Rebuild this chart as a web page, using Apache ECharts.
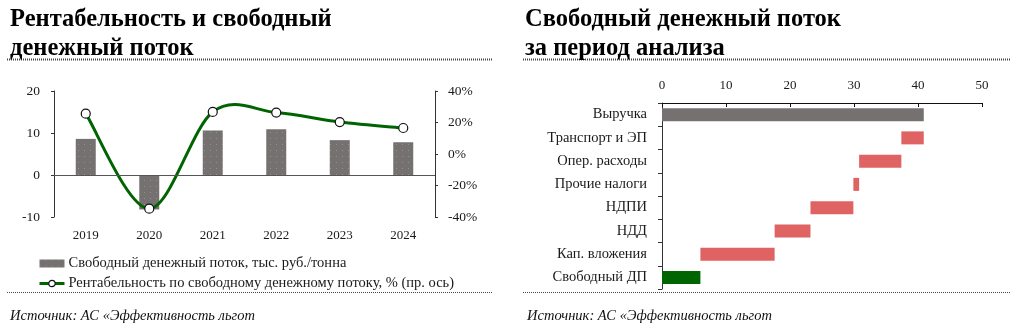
<!DOCTYPE html>
<html>
<head>
<meta charset="utf-8">
<script src="https://cdn.jsdelivr.net/npm/echarts@6/dist/echarts.min.js"></script>
<style>
  html, body { margin: 0; padding: 0; background: #ffffff; }
  #chart { width: 1014px; height: 329px; }
</style>
</head>
<body>
<div id="chart"></div>
<script>
// Left panel: free cash flow per tonne and FCF profitability by year
const years = ['2019', '2020', '2021', '2022', '2023', '2024'];
const fcfPerTonne = [8.6, -8.2, 10.6, 10.9, 8.3, 7.8];          // тыс. руб./тонна
const fcfMargin = [25.6, -34.7, 26.7, 26.3, 20.3, 16.5];        // %, right axis
const leftTicks = { min: -10, max: 20, interval: 10 };
const rightTicks = { min: -40, max: 40, interval: 20 };

// Right panel: free cash flow bridge for the analysis period
const bridgeItems = ['Выручка', 'Транспорт и ЭП', 'Опер. расходы', 'Прочие налоги',
                     'НДПИ', 'НДД', 'Кап. вложения', 'Свободный ДП'];
const bridgeValues = [40.9, 3.5, 6.6, 0.9, 6.7, 5.6, 11.6, 6.0];
const bridgeKinds = ['total', 'cost', 'cost', 'cost', 'cost', 'cost', 'cost', 'result'];
const bridgeTicks = { min: 0, max: 50, interval: 10 };

const FONT = '"Liberation Serif", "Times New Roman", serif';
const GREY = '#767171';
const RED = '#e06363';
const GREEN = '#006400';
const TEXT = '#1a1a1a';
const BAR_NAME = 'Свободный денежный поток, тыс. руб./тонна';
const LINE_NAME = 'Рентабельность по свободному денежному потоку, % (пр. ось)';
const SOURCE = 'Источник: АС «Эффективность льгот';

// Floating bases: each cost hangs below the running total
const bridgeBase = [];
let running = 0;
bridgeValues.forEach((v, i) => {
  if (bridgeKinds[i] === 'total') { bridgeBase.push(0); running = v; }
  else if (bridgeKinds[i] === 'cost') { running -= v; bridgeBase.push(running); }
  else { bridgeBase.push(0); }
});
const kindColor = { total: GREY, cost: RED, result: GREEN };

// Cardinal-spline curve through the profitability points (pixel coords from the axes)
function renderCurve(params, api) {
  if (params.dataIndex !== 0) return null;
  const pts = fcfMargin.map((v, i) => api.coord([i, v]));
  const n = pts.length;
  const f = (p) => p[0].toFixed(2) + ',' + p[1].toFixed(2);
  let d = 'M' + f(pts[0]);
  for (let i = 0; i < n - 1; i++) {
    const p0 = pts[Math.max(i - 1, 0)], p1 = pts[i], p2 = pts[i + 1], p3 = pts[Math.min(i + 2, n - 1)];
    const c1 = [p1[0] + (p2[0] - p0[0]) / 6, p1[1] + (p2[1] - p0[1]) / 6];
    const c2 = [p2[0] - (p3[0] - p1[0]) / 6, p2[1] - (p3[1] - p1[1]) / 6];
    d += ' C' + f(c1) + ' ' + f(c2) + ' ' + f(p2);
  }
  return {
    type: 'path',
    shape: { pathData: d },
    style: { stroke: GREEN, lineWidth: 3, fill: 'none', lineJoin: 'round', lineCap: 'round' }
  };
}

const chart = echarts.init(document.getElementById('chart'), null, { renderer: 'canvas' });

const titleStyle = { fontFamily: FONT, fontSize: 24.5, fontWeight: 'bold', color: '#000', lineHeight: 29 };
const sourceStyle = { fontFamily: FONT, fontSize: 14.5, fontStyle: 'italic', fill: '#111' };
const dots = (x1, x2, y, w, dash) => ({
  type: 'line', silent: true,
  shape: { x1: x1, y1: y, x2: x2, y2: y },
  style: { stroke: '#444', lineWidth: w, lineDash: dash }
});

chart.setOption({
  animation: false,
  textStyle: { fontFamily: FONT },
  title: [
    { text: 'Рентабельность и свободный\nденежный поток', left: 10, top: 5, padding: 0, textStyle: titleStyle },
    { text: 'Свободный денежный поток\nза период анализа', left: 525, top: 5, padding: 0, textStyle: titleStyle }
  ],
  graphic: [
    dots(7, 493, 59.5, 2, [1, 1]),
    dots(523, 1010, 59.5, 2, [1, 1]),
    dots(7, 493, 292.5, 1, [1, 1]),
    dots(523, 1010, 292.5, 1, [1, 1]),
    { type: 'text', left: 10, top: 309, silent: true,
      style: Object.assign({ text: SOURCE }, sourceStyle) },
    { type: 'text', left: 527, top: 309, silent: true,
      style: Object.assign({ text: SOURCE }, sourceStyle) }
  ],
  legend: {
    orient: 'vertical', left: 38, top: 256, itemGap: 5, padding: 0,
    itemWidth: 25, itemHeight: 8,
    textStyle: { fontFamily: FONT, fontSize: 14.5, color: TEXT, padding: [0, 0, 0, -1] },
    data: [
      { name: BAR_NAME, icon: 'rect', itemStyle: { color: GREY } },
      { name: LINE_NAME,
        lineStyle: { color: GREEN, width: 3, opacity: 1 },
        itemStyle: { color: '#ffffff', borderColor: '#111', borderWidth: 1.2 } }
    ]
  },
  grid: [
    { left: 54, right: 1014 - 435, top: 91, bottom: 329 - 217 },
    { left: 662, right: 1014 - 982, top: 103, bottom: 329 - 289 }
  ],
  xAxis: [
    {
      type: 'category', gridIndex: 0, data: years,
      axisLine: { show: false, onZero: false },
      axisTick: { show: false },
      axisLabel: { fontFamily: FONT, fontSize: 13, color: TEXT, margin: 12 }
    },
    {
      type: 'value', gridIndex: 1, position: 'top',
      min: bridgeTicks.min, max: bridgeTicks.max, interval: bridgeTicks.interval,
      axisLine: { show: true, lineStyle: { color: '#111', width: 1 } },
      axisTick: { show: true, inside: true, length: 4, lineStyle: { color: '#111' } },
      axisLabel: { fontFamily: FONT, fontSize: 13, color: TEXT, margin: 11 },
      splitLine: { show: false }
    }
  ],
  yAxis: [
    {
      type: 'value', gridIndex: 0,
      min: leftTicks.min, max: leftTicks.max, interval: leftTicks.interval,
      axisLine: { show: true, lineStyle: { color: '#333' } },
      axisTick: { show: true, length: 3, lineStyle: { color: '#333' } },
      axisLabel: { fontFamily: FONT, fontSize: 13.5, color: TEXT, margin: 14 },
      splitLine: { show: false }
    },
    {
      type: 'value', gridIndex: 0, position: 'right',
      min: rightTicks.min, max: rightTicks.max, interval: rightTicks.interval,
      axisLine: { show: true, lineStyle: { color: '#333' } },
      axisTick: { show: true, length: 3, lineStyle: { color: '#333' } },
      axisLabel: { fontFamily: FONT, fontSize: 13.5, color: TEXT, margin: 13, formatter: '{value}%' },
      splitLine: { show: false }
    },
    {
      type: 'category', gridIndex: 1, data: bridgeItems, inverse: true,
      axisLine: { show: true, lineStyle: { color: '#333' } },
      axisTick: { show: true, length: 4, lineStyle: { color: '#333' } },
      axisLabel: { fontFamily: FONT, fontSize: 14.5, color: TEXT, margin: 15 },
      splitLine: { show: false }
    }
  ],
  series: [
    {
      name: BAR_NAME,
      type: 'bar', xAxisIndex: 0, yAxisIndex: 0,
      data: fcfPerTonne, barWidth: 20,
      itemStyle: {
        color: GREY,
        decal: { symbol: 'rect', symbolSize: 1, dashArrayX: [1, 5], dashArrayY: [1, 5],
                 color: 'rgba(255,255,255,0.22)' }
      },
      markLine: {
        silent: true, symbol: 'none', label: { show: false },
        lineStyle: { color: '#555', type: 'solid', width: 1 },
        data: [{ yAxis: 0 }]
      }
    },
    {
      name: 'curve', type: 'custom', xAxisIndex: 0, yAxisIndex: 1,
      data: fcfMargin.map((v, i) => [i, v]),
      renderItem: renderCurve, z: 3, silent: true
    },
    {
      name: LINE_NAME,
      type: 'line', xAxisIndex: 0, yAxisIndex: 1,
      data: fcfMargin,
      lineStyle: { color: GREEN, width: 3, opacity: 0 },
      itemStyle: { color: '#ffffff', borderColor: '#111', borderWidth: 1.2 },
      symbol: 'circle', symbolSize: 9, z: 5
    },
    {
      name: 'base', type: 'bar', xAxisIndex: 1, yAxisIndex: 2,
      stack: 'bridge', data: bridgeBase, barWidth: 13,
      itemStyle: { color: 'transparent' }, silent: true
    },
    {
      name: 'bridge', type: 'bar', xAxisIndex: 1, yAxisIndex: 2,
      stack: 'bridge', barWidth: 13,
      data: bridgeValues.map((v, i) => ({ value: v, itemStyle: { color: kindColor[bridgeKinds[i]] } }))
    }
  ]
});
</script>
</body>
</html>
